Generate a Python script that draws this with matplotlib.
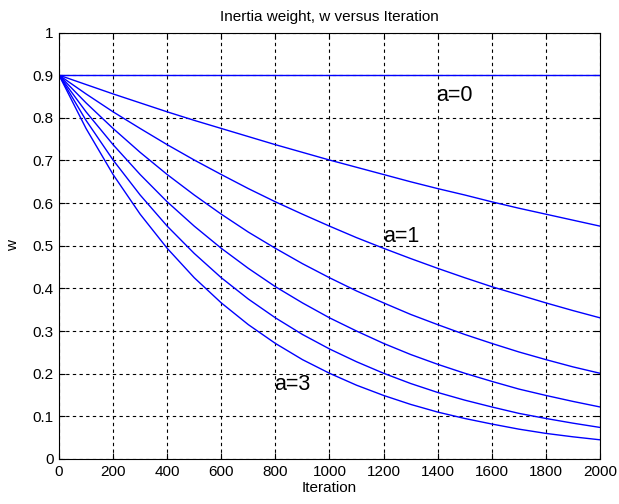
import matplotlib.pyplot as plt

plt.rcParams['font.family'] = ['Liberation Sans', 'DejaVu Sans']

iteration = list(range(0, 2001, 100))

# w, one list per curve (top to bottom)
w_a0 = [0.900] * 21
w_a05 = [0.900, 0.878, 0.856, 0.835, 0.814, 0.794, 0.775, 0.756, 0.737, 0.719, 0.701,
         0.684, 0.667, 0.650, 0.634, 0.619, 0.603, 0.588, 0.574, 0.560, 0.546]
w_a1 = [0.900, 0.856, 0.814, 0.775, 0.737, 0.701, 0.667, 0.634, 0.603, 0.574, 0.546,
        0.519, 0.494, 0.470, 0.447, 0.425, 0.404, 0.385, 0.366, 0.348, 0.331]
w_a15 = [0.900, 0.835, 0.775, 0.719, 0.667, 0.619, 0.574, 0.532, 0.494, 0.458, 0.425,
         0.394, 0.366, 0.339, 0.315, 0.292, 0.271, 0.251, 0.233, 0.216, 0.201]
w_a2 = [0.900, 0.814, 0.737, 0.667, 0.603, 0.546, 0.494, 0.447, 0.404, 0.366, 0.331,
        0.300, 0.271, 0.245, 0.222, 0.201, 0.182, 0.164, 0.149, 0.135, 0.122]
w_a25 = [0.900, 0.794, 0.701, 0.619, 0.546, 0.482, 0.425, 0.375, 0.331, 0.292, 0.258,
         0.228, 0.201, 0.177, 0.156, 0.138, 0.122, 0.107, 0.095, 0.084, 0.074]
w_a3 = [0.900, 0.775, 0.667, 0.574, 0.494, 0.425, 0.366, 0.315, 0.271, 0.233, 0.201,
        0.173, 0.149, 0.128, 0.110, 0.095, 0.082, 0.070, 0.060, 0.052, 0.045]

curves = [w_a0, w_a05, w_a1, w_a15, w_a2, w_a25, w_a3]

# curve labels: (text, iteration, w)
labels = [('a=0', 1394, 0.853), ('a=1', 1198, 0.522), ('a=3', 795, 0.174)]

fig = plt.figure(figsize=(6.19, 5.04), dpi=100)
ax = fig.add_axes([0.0953, 0.0893, 0.874, 0.8462])

for w in curves:
    ax.plot(iteration, w, color='#0000ff', linewidth=1.0)

for txt, x, y in labels:
    ax.text(x, y, txt, fontsize=15.5, va='center', ha='left')

ax.set_xlim(0, 2000)
ax.set_ylim(0, 1)
ax.set_xticks(range(0, 2001, 200))
ax.set_yticks([i / 10 for i in range(11)])
ax.set_yticklabels(['0', '0.1', '0.2', '0.3', '0.4', '0.5', '0.6', '0.7', '0.8', '0.9', '1'])
ax.tick_params(direction='in', labelsize=11, length=4, pad=4, top=True, right=True)
ax.grid(True, color='black', linestyle=(0, (3, 3)), linewidth=0.8)

ax.set_title('Inertia weight, w versus Iteration', fontsize=11, pad=8)
ax.set_xlabel('Iteration', fontsize=11, labelpad=2)
ax.set_ylabel('w', fontsize=11, labelpad=9)

for s in ax.spines.values():
    s.set_linewidth(0.8)

plt.savefig('out.png', dpi=100)
plt.close()
